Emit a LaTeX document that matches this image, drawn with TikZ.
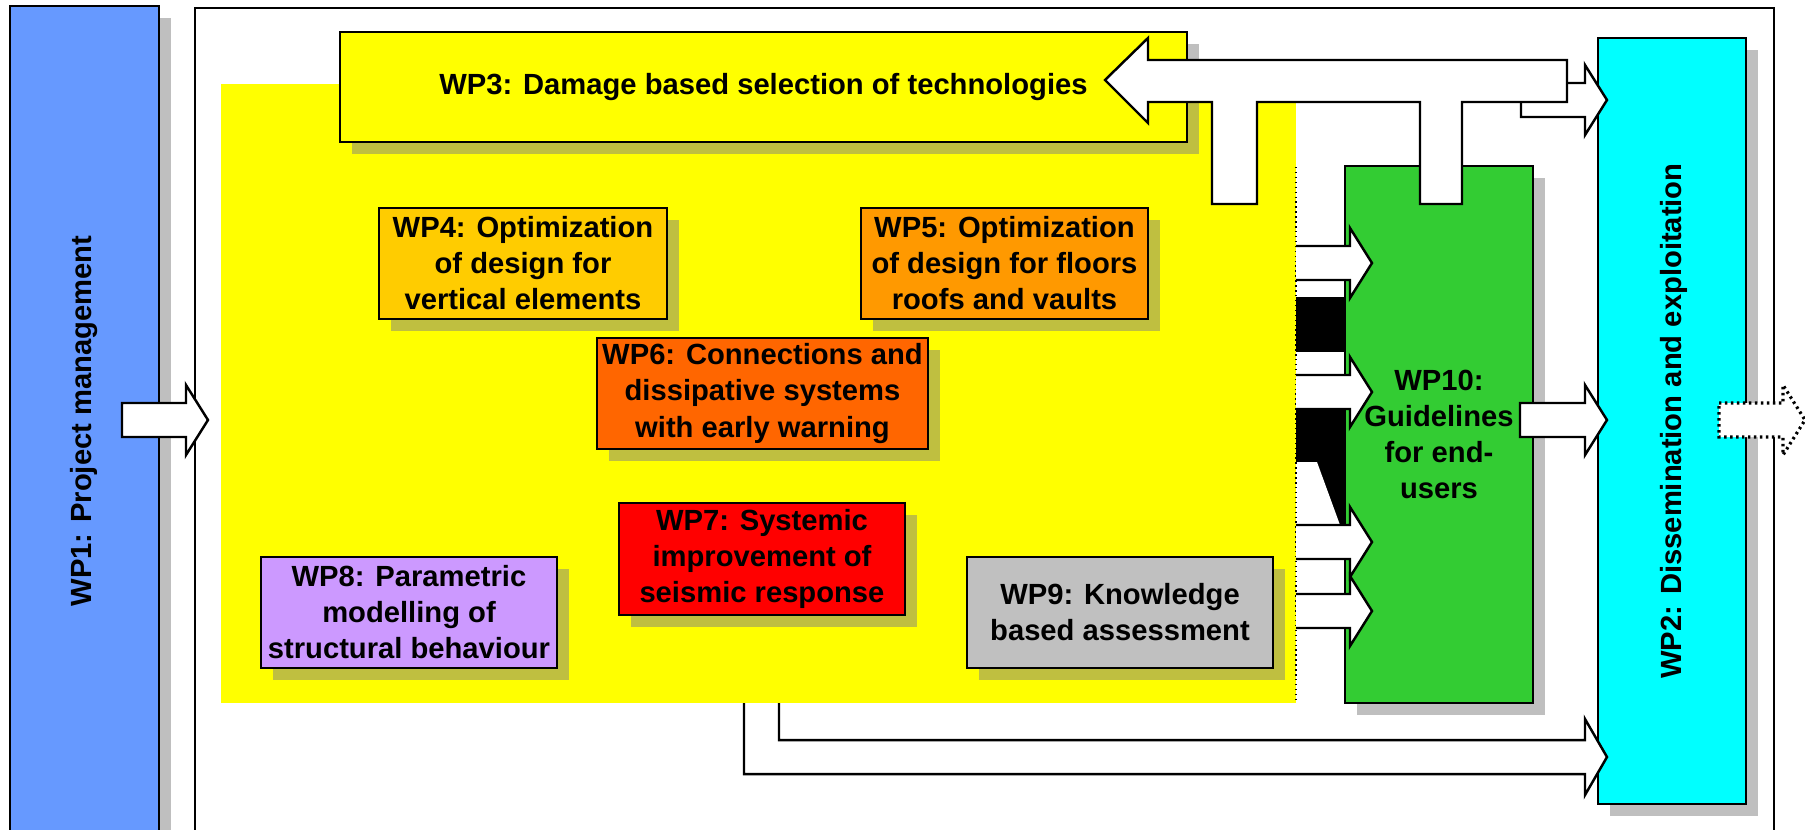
\documentclass[tikz,border=0pt]{standalone}
\usepackage{fontspec}
\setmainfont{Liberation Sans}
\usepackage{tikz}
\usetikzlibrary{shadows}
\definecolor{wpblue}{HTML}{6699FF}
\definecolor{wpcyan}{HTML}{00FFFF}
\definecolor{wpyellow}{HTML}{FFFF00}
\definecolor{wpgold}{HTML}{FFCC00}
\definecolor{wporange}{HTML}{FF9900}
\definecolor{wpdeeporange}{HTML}{FF6600}
\definecolor{wpred}{HTML}{FF0000}
\definecolor{wplilac}{HTML}{CC99FF}
\definecolor{wpgray}{HTML}{C0C0C0}
\definecolor{wpgreen}{HTML}{33CC33}
\newcommand{\wpfont}{\bfseries\fontsize{8.3}{10.25}\selectfont}
% block arrow pointing right: start x, tip x, mid y
\newcommand{\blkarrow}[4][]{%
  \draw[blk,#1] (#2,#4-17) -- (#3-22,#4-17) -- (#3-22,#4-35) -- (#3,#4)
    -- (#3-22,#4+35) -- (#3-22,#4+17) -- (#2,#4+17) -- cycle;}
% same, open at its start
\newcommand{\blkstub}[3]{%
  \draw[blk] (#1,#3-17) -- (#2-22,#3-17) -- (#2-22,#3-35) -- (#2,#3)
    -- (#2-22,#3+35) -- (#2-22,#3+17) -- (#1,#3+17);}
\tikzset{
  boxsize/.style 2 args={minimum width=#1*0.01cm, minimum height=#2*0.01cm},
  wpbox/.style={draw, line width=0.7pt, inner sep=0pt, align=center, font=\wpfont,
    drop shadow={shadow xshift=0.12cm, shadow yshift=-0.12cm}},
  blk/.style={draw=black, fill=white, line width=0.7pt, line join=miter},
}

\begin{document}
\begin{tikzpicture}[x=0.01cm, y=-0.01cm]
  \useasboundingbox (0,0) rectangle (1805,829);
  \clip (0,0) rectangle (1805,829);

  % outer frame and project management
  \draw[line width=0.6pt] (195,8) rectangle (1774,900);
  \node[wpbox, fill=wpblue, boxsize={149}{840}] (wp1) at (84.5,426) {};
  \node[font=\wpfont, rotate=90] (wp1lbl) at (84.5,421) {WP1: Project management};

  % technical work packages
  \node[fill=wpyellow, inner sep=0pt, boxsize={1075}{619}] (core) at (758.5,393.5) {};
  \node[wpbox, fill=wpyellow, boxsize={847}{110}] (wp3) at (763.5,87)
    {WP3: Damage based selection of technologies};
  \node[wpbox, fill=wpgold, boxsize={288}{111}] (wp4) at (523,263.5)
    {WP4: Optimization\\of design for\\vertical elements};
  \node[wpbox, fill=wporange, boxsize={287}{111}] (wp5) at (1004.5,263.5)
    {WP5: Optimization\\of design for floors\\roofs and vaults};
  \node[wpbox, fill=wpdeeporange, boxsize={331}{111}] (wp6) at (762.5,393.5)
    {WP6: Connections and\\dissipative systems\\with early warning};
  \node[wpbox, fill=wpred, boxsize={286}{112}] (wp7) at (762,559)
    {WP7: Systemic\\improvement of\\seismic response};
  \node[wpbox, fill=wplilac, boxsize={296}{111}] (wp8) at (409,612.5)
    {WP8: Parametric\\modelling of\\structural behaviour};
  \node[wpbox, fill=wpgray, boxsize={306}{111}] (wp9) at (1120,612.5)
    {WP9: Knowledge\\based assessment};

  % leftovers between the yellow area and WP10
  \fill[black] (1296,297) rectangle (1345,352);
  \fill[black] (1296,408) rectangle (1345,525);
  \fill[white] (1296,462) -- (1317,462) -- (1340,525) -- (1296,525) -- cycle;
  \draw[densely dotted, line width=0.4pt] (1296,167) -- (1296,703);

  \node[wpbox, fill=wpgreen, boxsize={188}{537}] (wp10) at (1439,434.5)
    {WP10:\\Guidelines\\for end-\\users};
  \node[wpbox, fill=wpcyan, boxsize={148}{766}] (wp2) at (1672,421) {};
  \node[font=\wpfont, rotate=90] (wp2lbl) at (1674,421) {WP2: Dissemination and exploitation};

  % block arrows
  \blkarrow{122}{208}{420}
  \foreach \ya in {263,392,542,611}
    {\blkstub{1296}{1372}{\ya}}
  \blkarrow{1521}{1607}{100}
  \draw[blk] (1105,80) -- (1148,38) -- (1148,60) -- (1567,60) -- (1567,102)
    -- (1462,102) -- (1462,204) -- (1420,204) -- (1420,102) -- (1257,102)
    -- (1257,204) -- (1212,204) -- (1212,102) -- (1148,102) -- (1148,123) -- cycle;
  \blkarrow{1520}{1607}{420}
  \draw[blk] (779,703) -- (779,740) -- (1585,740) -- (1585,719) -- (1607,757)
    -- (1585,795) -- (1585,774) -- (744,774) -- (744,703);
  \blkarrow[densely dotted, line width=0.9pt]{1719}{1805}{420}
\end{tikzpicture}
\end{document}
